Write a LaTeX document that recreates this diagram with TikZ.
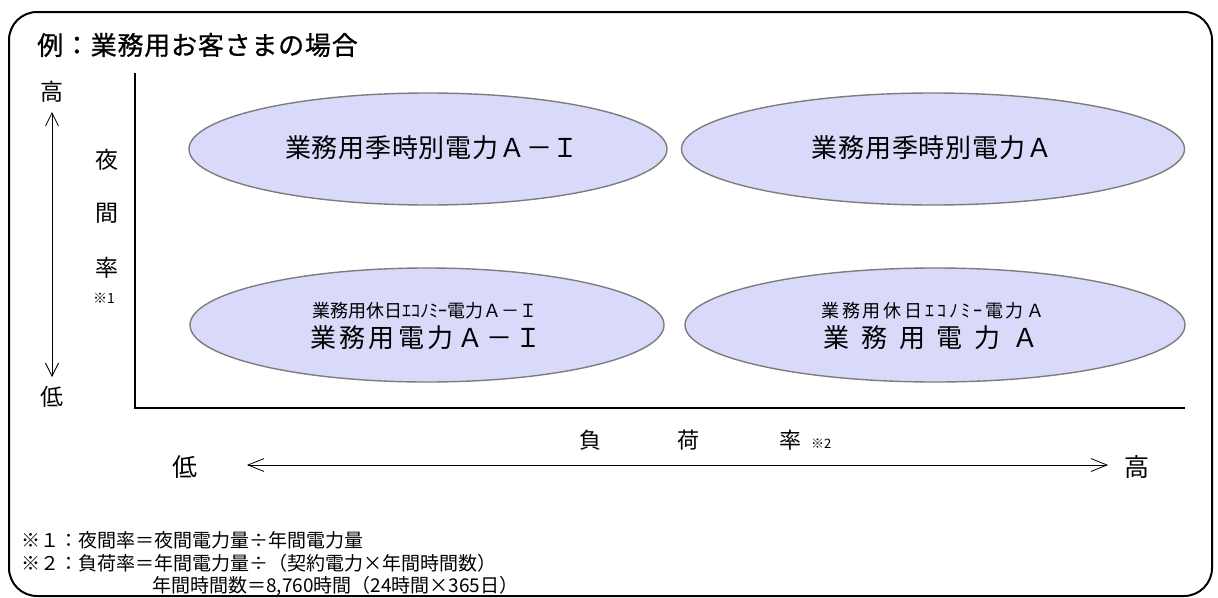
\documentclass[tikz,border=0pt]{standalone}
\usepackage{fontspec}
\setmainfont{Noto Sans CJK JP}
\usetikzlibrary{shapes.geometric,arrows.meta}
\definecolor{ellfill}{RGB}{217,217,250}
\definecolor{ellline}{RGB}{125,125,125}
\begin{document}
\begin{tikzpicture}[x=1pt,y=-1pt,
  ell/.style={ellipse,draw=ellline,fill=ellfill,line width=1.4pt,inner sep=0pt},
  txt/.style={inner sep=0pt,text=black},
  barb/.style={{Straight Barb[length=13pt,width=13pt]}-{Straight Barb[length=13pt,width=13pt]},line width=0.8pt},
  hbarb/.style={{Straight Barb[length=16pt,width=13pt]}-{Straight Barb[length=16pt,width=13pt]},line width=0.8pt}]
\useasboundingbox (0,0) rectangle (1218,597);
% frame
\draw[line width=2pt,rounded corners=28pt] (9,12) rectangle (1212,596);
% title
\node[txt,anchor=west] (title) at (37,45) {\fontsize{26}{26}\selectfont\addfontfeature{LetterSpace=3,FakeBold=0.8}例：業務用お客さまの場合};
% vertical scale
\node[txt] (hi) at (52,92) {\fontsize{23}{23}\selectfont 高};
\node[txt] (lo) at (52,397) {\fontsize{23}{23}\selectfont 低};
\coordinate (vtop) at (52,112);
\coordinate (vbot) at (52,377);
\draw[barb] (vtop) -- (vbot);
\node[txt] (ya) at (107,160) {\fontsize{23}{23}\selectfont 夜};
\node[txt] (yb) at (107,213) {\fontsize{23}{23}\selectfont 間};
\node[txt] (yc) at (107,268) {\fontsize{23}{23}\selectfont 率};
\node[txt] (yd) at (104,298) {\fontsize{14}{14}\selectfont ※1};
% axes
\coordinate (ax0) at (135,73);
\coordinate (axO) at (135,408);
\coordinate (ax1) at (1185,408);
\draw[line width=2.5pt] (ax0) -- (axO) -- (ax1);
% ellipses
\node[ell,minimum width=478pt,minimum height=112pt] (tl) at (428,149) {};
\node[ell,minimum width=503pt,minimum height=112pt] (tr) at (933,149) {};
\node[ell,minimum width=474pt,minimum height=114pt] (bl) at (427,325) {};
\node[ell,minimum width=500pt,minimum height=114pt] (br) at (935,325) {};
\node[txt] (tlt) at (432,148) {\fontsize{26}{26}\selectfont\addfontfeature{LetterSpace=3}業務用季時別電力Ａ－Ｉ};
\node[txt] (trt) at (932,148) {\fontsize{26}{26}\selectfont\addfontfeature{LetterSpace=3}業務用季時別電力Ａ};
\node[txt] (blt1) at (425,311) {\fontsize{18}{18}\selectfont 業務用休日ｴｺﾉﾐｰ電力Ａ－Ｉ};
\node[txt] (blt2) at (426,338) {\fontsize{26}{26}\selectfont\addfontfeature{LetterSpace=13}業務用電力Ａ－Ｉ};
\node[txt] (brt1) at (933,311) {\fontsize{18}{18}\selectfont\addfontfeature{LetterSpace=16}業務用休日ｴｺﾉﾐｰ電力Ａ};
\node[txt] (brt2) at (931,338) {\fontsize{26}{26}\selectfont\addfontfeature{LetterSpace=45}業務用電力Ａ};
% horizontal scale
\node[txt,anchor=west] (fk) at (579,440) {\fontsize{22}{22}\selectfont 負\hspace{76pt}荷\hspace{80pt}率\hspace{10pt}{\fontsize{13}{13}\selectfont ※2}};
\node[txt] (xlo) at (185,467) {\fontsize{25}{25}\selectfont 低};
\node[txt] (xhi) at (1137,467) {\fontsize{25}{25}\selectfont 高};
\coordinate (hl) at (247,465);
\coordinate (hr) at (1108,465);
\draw[hbarb] (hl) -- (hr);
% notes
\node[txt,anchor=west] (n1) at (21,540) {\fontsize{19}{19}\selectfont ※１：夜間率＝夜間電力量÷年間電力量};
\node[txt,anchor=west] (n2) at (21,563) {\fontsize{19}{19}\selectfont ※２：負荷率＝年間電力量÷（契約電力×年間時間数）};
\node[txt,anchor=west] (n3) at (152,586) {\fontsize{19}{19}\selectfont 年間時間数＝8,760時間（24時間×365日）};
\end{tikzpicture}
\end{document}
